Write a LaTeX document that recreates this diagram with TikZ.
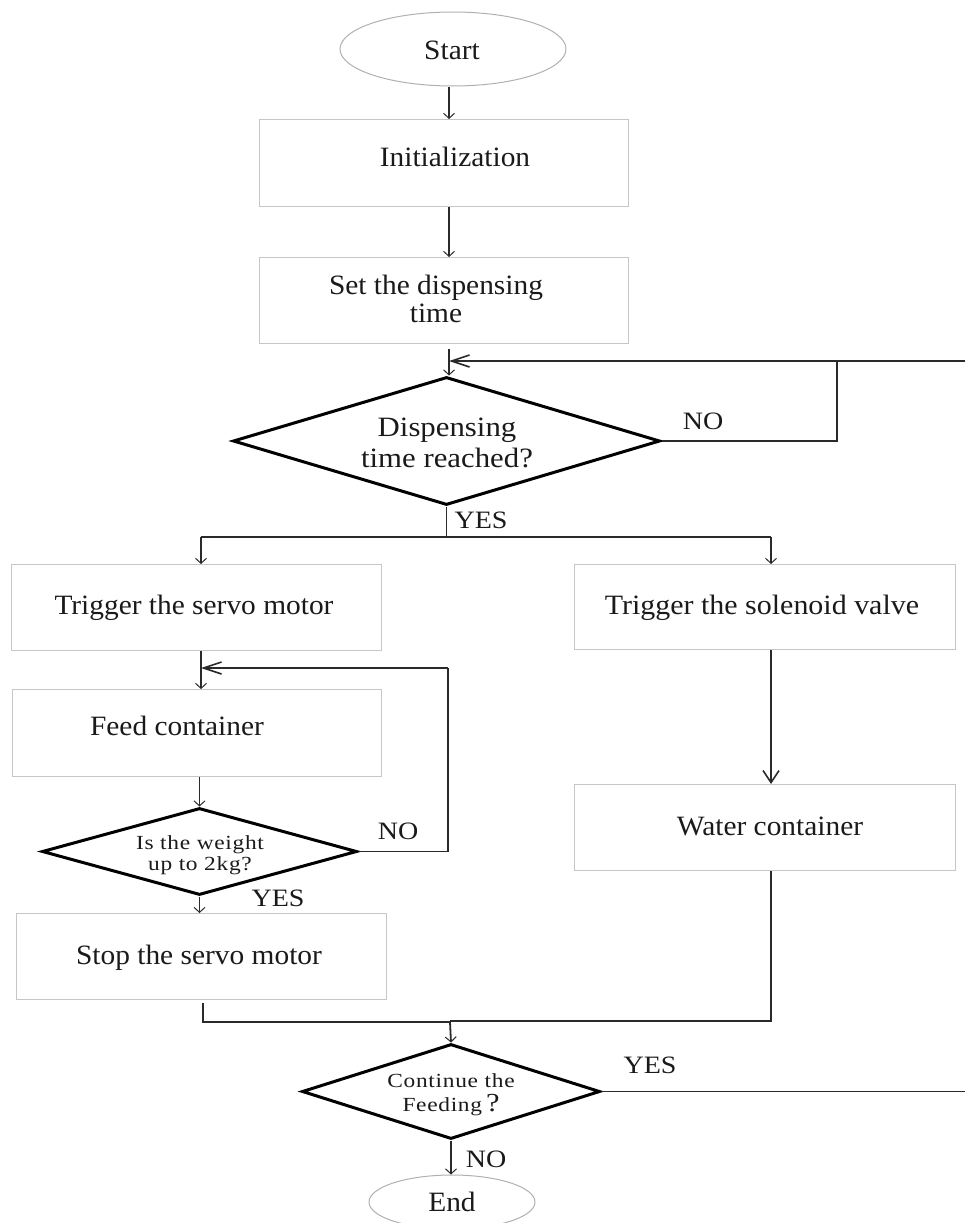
\documentclass[tikz,border=0pt]{standalone}
\usepackage{fontspec}
\usepackage{graphicx}
\setmainfont{Liberation Serif}
\usetikzlibrary{arrows.meta,shapes.geometric}
\definecolor{txtcol}{HTML}{1A1A1A}
\definecolor{linecol}{HTML}{2A2A2A}
\definecolor{boxgray}{HTML}{C6C6C6}
\definecolor{ellgray}{HTML}{B0B0B0}
\newfontfamily\smallf[LetterSpace=3]{Liberation Serif}
\newcommand\sx[2]{\scalebox{#1}[1]{\begin{tabular}{@{}c@{}}#2\end{tabular}}}
\begin{document}
\begin{tikzpicture}[x=1pt,y=-1pt,
  box/.style={draw=boxgray,line width=1.3pt,inner sep=0pt,anchor=north west},
  term/.style={ellipse,draw=ellgray,line width=1pt,inner sep=0pt},
  dia/.style={diamond,draw=black,line width=3pt,inner sep=0pt},
  txt/.style={font=\fontsize{28}{28}\selectfont,text=txtcol,align=center,inner sep=0pt,yshift=-3.5pt},
  dtxt/.style={font=\fontsize{28}{31}\selectfont,text=txtcol,align=center,inner sep=0pt,yshift=-3.5pt},
  stxt/.style={font=\smallf\fontsize{20}{21}\selectfont,text=txtcol,align=center,inner sep=0pt,yshift=-2.5pt},
  lbl/.style={font=\fontsize{25}{25}\selectfont,text=txtcol,inner sep=0pt,yshift=-3pt},
  conn/.style={draw=linecol,line width=1.8pt},
  arr/.style={conn,-{Straight Barb[length=5pt,width=11pt,line width=1pt]}},
  bigarr/.style={conn,-{Straight Barb[length=18pt,width=12pt,line width=1.6pt]}},
  midarr/.style={conn,-{Straight Barb[length=12pt,width=16pt,line width=1.6pt]}}]
\useasboundingbox (0,0) rectangle (965,1223);
% shapes
\node[term,minimum width=226pt,minimum height=74pt] (start) at (453,49) {};
\node[box,minimum width=369pt,minimum height=87pt] (init) at (259,119) {};
\node[box,minimum width=369pt,minimum height=86pt] (set) at (259,257) {};
\node[dia,minimum width=427pt,minimum height=128pt] (d1) at (446.5,441) {};
\node[box,minimum width=370pt,minimum height=86pt] (servo) at (11,564) {};
\node[box,minimum width=381pt,minimum height=85pt] (sol) at (574,564) {};
\node[box,minimum width=369pt,minimum height=87pt] (feed) at (12,689) {};
\node[dia,minimum width=315pt,minimum height=87pt] (d2) at (199.5,851.5) {};
\node[box,minimum width=370pt,minimum height=86pt] (stop) at (16,913) {};
\node[box,minimum width=381pt,minimum height=86pt] (water) at (574,784) {};
\node[dia,minimum width=298pt,minimum height=95pt] (d3) at (451,1091.5) {};
\node[term,minimum width=166pt,minimum height=54pt] (end) at (452,1202) {};
% texts
\node[txt] (tstart) at (452,50) {\sx{1.05}{Start}};
\node[txt] (tinit) at (455,157) {\sx{1.05}{Initialization}};
\node[txt] (tset) at (436,299) {\sx{1.05}{Set the dispensing\\time}};
\node[dtxt] (td1) at (447,442) {\sx{1.1}{Dispensing\\time reached?}};
\node[txt] (tservo) at (194,605) {\sx{1.05}{Trigger the servo motor}};
\node[txt] (tsol) at (762,605) {\sx{1.07}{Trigger the solenoid valve}};
\node[txt] (tfeed) at (177,726) {\sx{1.05}{Feed container}};
\node[stxt] (td2) at (200,853) {\sx{1.17}{Is the weight\\up to 2kg?}};
\node[txt] (tstop) at (199,955) {\sx{1.05}{Stop the servo motor}};
\node[txt] (twater) at (770,826) {\sx{1.05}{Water container}};
\node[stxt] (td3) at (451,1093) {\sx{1.17}{Continue the\\Feeding\,{\fontsize{26}{21}\selectfont ?}}};
\node[txt] (tend) at (452,1202) {\sx{1.05}{End}};
% labels
\node[lbl] (no1) at (703,421) {\sx{1.12}{NO}};
\node[lbl] (yes1) at (481,520) {\sx{1.12}{YES}};
\node[lbl] (no2) at (398,831) {\sx{1.12}{NO}};
\node[lbl] (yes2) at (278,898) {\sx{1.12}{YES}};
\node[lbl] (yes3) at (650,1065) {\sx{1.12}{YES}};
\node[lbl] (no3) at (486,1159) {\sx{1.12}{NO}};
% coordinates
\coordinate (spine) at (449,0);
\coordinate (edge) at (965,0);
\coordinate (loopR) at (965,361);
\coordinate (loopN) at (837,361);
\coordinate (L) at (201,537);
\coordinate (R) at (771,537);
\coordinate (loop2) at (448,668);
\coordinate (merge) at (450,1022);
\coordinate (stopout) at (203,1003);
% connectors
\draw[arr] (start.south -| spine) -- (init.north -| spine);
\draw[arr] (init.south -| spine) -- (set.north -| spine);
\draw[arr] ([yshift=-5pt]set.south -| spine) -- (d1.north -| spine);
\draw[conn] (d1.east) -| (loopN);
\draw[bigarr] (loopR) -- (loopR -| spine);
\draw[conn] (d1.south) -- (d1.south |- L);
\draw[conn] (L) -- (R);
\draw[arr] (L) -- (L |- servo.north);
\draw[arr] (R) -- (R |- sol.north);
\draw[arr] (L |- servo.south) -- (L |- feed.north);
\draw[arr] (d2.north |- feed.south) -- (d2.north);
\draw[conn] (d2.east) -| (loop2);
\draw[bigarr] (loop2) -- (loop2 -| L);
\draw[arr] (d2.south) -- (d2.south |- stop.north);
\draw[conn] (stopout) -- (stopout |- merge) -- (merge);
\draw[midarr] (R |- sol.south) -- (R |- water.north);
\draw[conn] (R |- water.south) -- ([yshift=1pt]R |- merge) -- ([yshift=1pt]merge);
\draw[arr] (merge) -- (d3.north);
\draw[conn] (d3.east) -- (d3.east -| edge);
\draw[arr] (d3.south) -- (d3.south |- end.north);
\end{tikzpicture}
\end{document}
